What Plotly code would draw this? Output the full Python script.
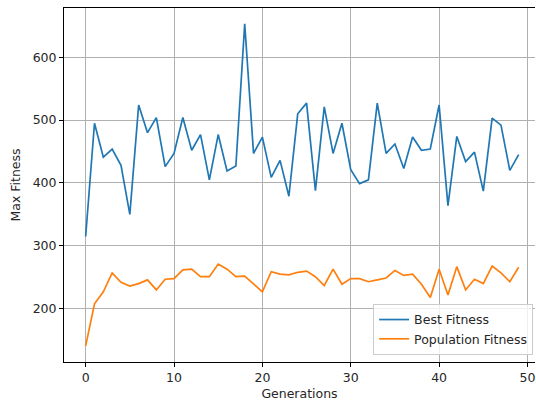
import plotly.graph_objects as go

generations = list(range(50))
best_fitness = [315, 495, 441, 454, 428, 350, 524, 480, 504, 426,
                447, 504, 452, 477, 405, 477, 419, 427, 653, 447,
                473, 409, 436, 379, 510, 527, 388, 521, 447, 495,
                421, 399, 405, 527, 447, 462, 423, 473, 452, 454,
                524, 364, 474, 434, 449, 387, 503, 492, 420, 445]
population_fitness = [141, 208, 227, 257, 242, 236, 240, 246, 230, 247,
                      248, 262, 263, 251, 251, 271, 263, 251, 252, 240,
                      227, 259, 255, 254, 258, 260, 251, 237, 263, 239,
                      248, 248, 243, 246, 249, 261, 253, 255, 239, 218,
                      263, 222, 267, 230, 247, 240, 268, 257, 243, 266]
x_ticks = [0, 10, 20, 30, 40, 50]
y_ticks = [200, 300, 400, 500, 600]

font = dict(family="DejaVu Sans", size=12.5, color="#262626")

fig = go.Figure()
fig.add_trace(go.Scatter(x=generations, y=best_fitness, mode="lines",
                         name="Best Fitness", line=dict(color="#1f77b4", width=1.7)))
fig.add_trace(go.Scatter(x=generations, y=population_fitness, mode="lines",
                         name="Population Fitness", line=dict(color="#ff7f0e", width=1.7)))

fig.update_layout(
    width=536, height=403,
    margin=dict(l=64, r=1, t=8, b=41, autoexpand=False),
    paper_bgcolor="white", plot_bgcolor="white",
    font=font,
    showlegend=True,
    legend=dict(x=0.996, y=0.02, xanchor="right", yanchor="bottom",
                bgcolor="rgba(255,255,255,0.8)", bordercolor="#cccccc", borderwidth=1,
                font=font, tracegroupgap=2, itemwidth=30),
    xaxis=dict(range=[-2.45, 50.85], tickvals=x_ticks, showgrid=True, gridcolor="#b0b0b0",
               gridwidth=0.8, zeroline=False, showline=True, linecolor="black", linewidth=1,
               mirror=True, ticks="outside", ticklen=4, tickcolor="black", automargin=False,
               title=dict(text="Generations", standoff=5, font=font)),
    yaxis=dict(range=[115.4, 678.2], tickvals=y_ticks, showgrid=True, gridcolor="#b0b0b0",
               gridwidth=0.8, zeroline=False, showline=True, linecolor="black", linewidth=1,
               ticks="outside", ticklen=4, tickcolor="black", automargin=False,
               title=dict(text="Max Fitness", standoff=9, font=font)),
)

fig.write_html(
    "out.html",
    config={"displayModeBar": False},
    post_script="document.body.style.margin='0';document.body.style.overflow='hidden';",
)
